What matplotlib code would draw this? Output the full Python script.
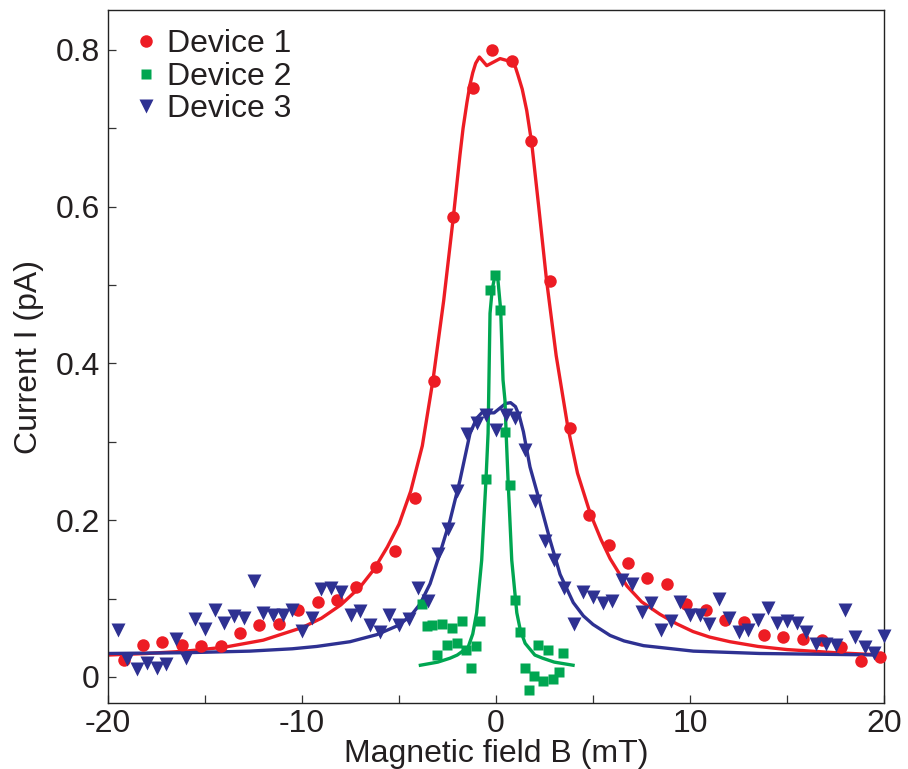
import matplotlib
matplotlib.use("Agg")
import matplotlib.pyplot as plt
from matplotlib.ticker import FixedLocator, MultipleLocator

plt.rcParams['font.family'] = ['Liberation Sans', 'DejaVu Sans']

# ---------------- data ----------------
dev1_x = [-19.2, -18.2, -17.2, -16.2, -15.2, -14.2, -13.2, -12.2, -11.2, -10.2,
          -9.2, -8.2, -7.2, -6.2, -5.2, -4.2, -3.2, -2.2, -1.2, -0.2,
          0.8, 1.8, 2.8, 3.8, 4.8, 5.8, 6.8, 7.8, 8.8, 9.8,
          10.8, 11.8, 12.8, 13.8, 14.8, 15.8, 16.8, 17.8, 18.8, 19.8]
dev1_y = [0.022, 0.041, 0.045, 0.041, 0.040, 0.040, 0.056, 0.066, 0.068, 0.085,
          0.096, 0.098, 0.115, 0.140, 0.161, 0.228, 0.378, 0.587, 0.751, 0.800,
          0.786, 0.684, 0.505, 0.318, 0.207, 0.168, 0.145, 0.126, 0.119, 0.093,
          0.085, 0.073, 0.070, 0.054, 0.051, 0.048, 0.047, 0.038, 0.020, 0.026]

dev2_x = [-3.83, -3.57, -3.31, -3.06, -2.80, -2.54, -2.28, -2.03, -1.77, -1.55,
          -1.30, -1.03, -0.82, -0.52, -0.31, -0.05, 0.21, 0.46, 0.72, 0.98,
          1.24, 1.50, 1.72, 1.96, 2.18, 2.44, 2.70, 2.95, 3.25, 3.47]
dev2_y = [0.093, 0.065, 0.066, 0.028, 0.068, 0.041, 0.063, 0.044, 0.071, 0.034,
          0.011, 0.039, 0.071, 0.253, 0.494, 0.513, 0.468, 0.312, 0.245, 0.098,
          0.058, 0.011, -0.016, 0.001, 0.041, -0.005, 0.034, -0.002, 0.006, 0.030]

dev3_x = [-19.5, -19.0, -18.5, -18.0, -17.5, -17.0, -16.5, -16.0, -15.5, -15.0,
          -14.5, -14.0, -13.5, -13.0, -12.5, -12.0, -11.5, -11.0, -10.5, -10.0,
          -9.5, -9.0, -8.5, -8.0, -7.5, -7.0, -6.5, -6.0, -5.5, -5.0,
          -4.5, -4.0, -3.5, -3.0, -2.5, -2.0, -1.5, -1.0, -0.5, 0.0,
          0.5, 1.0, 1.5, 2.0, 2.5, 3.0, 3.5, 4.0, 4.5, 5.0,
          5.5, 6.0, 6.5, 7.0, 7.5, 8.0, 8.5, 9.0, 9.5, 10.0,
          10.5, 11.0, 11.5, 12.0, 12.5, 13.0, 13.5, 14.0, 14.5, 15.0,
          15.5, 16.0, 16.5, 17.0, 17.5, 18.0, 18.5, 19.0, 19.5, 20.0]
dev3_y = [0.060, 0.023, 0.010, 0.018, 0.012, 0.017, 0.048, 0.024, 0.074, 0.061,
          0.085, 0.069, 0.078, 0.075, 0.123, 0.082, 0.079, 0.079, 0.086, 0.059,
          0.075, 0.112, 0.113, 0.108, 0.079, 0.084, 0.066, 0.058, 0.079, 0.066,
          0.074, 0.113, 0.097, 0.157, 0.189, 0.237, 0.310, 0.324, 0.334, 0.315,
          0.334, 0.330, 0.289, 0.225, 0.174, 0.149, 0.114, 0.067, 0.109, 0.102,
          0.094, 0.097, 0.124, 0.119, 0.083, 0.094, 0.060, 0.072, 0.096, 0.079,
          0.079, 0.068, 0.099, 0.075, 0.058, 0.060, 0.073, 0.088, 0.069, 0.071,
          0.069, 0.058, 0.042, 0.042, 0.041, 0.085, 0.051, 0.038, 0.031, 0.052]

# fitted curves
fit1_x = [-20.0, -18.0, -16.0, -14.0, -12.0, -11.0, -10.0, -9.0, -8.0, -7.0,
          -6.3, -5.6, -5.0, -4.4, -3.8, -3.25, -2.7, -2.2, -1.86, -1.7,
          -1.5, -1.35, -1.2, -1.05, -0.86, -0.48, 0.21, 0.5, 0.81, 1.0,
          1.13, 1.35, 1.58, 1.84, 2.2, 2.6, 3.1, 3.7, 4.2, 4.85,
          5.4, 5.88, 6.75, 7.5, 8.45, 9.3, 10.15, 11.0, 12.06, 13.5,
          15.0, 17.5, 20.0]
fit1_y = [0.028, 0.030, 0.033, 0.038, 0.047, 0.055, 0.063, 0.075, 0.092, 0.115,
          0.137, 0.166, 0.195, 0.237, 0.295, 0.379, 0.480, 0.587, 0.666, 0.700,
          0.733, 0.755, 0.771, 0.783, 0.791, 0.780, 0.789, 0.787, 0.785, 0.778,
          0.768, 0.750, 0.723, 0.681, 0.600, 0.507, 0.410, 0.319, 0.260, 0.209,
          0.176, 0.151, 0.116, 0.096, 0.080, 0.068, 0.058, 0.051, 0.045, 0.039,
          0.035, 0.031, 0.028]

fit2_x = [-3.9, -3.0, -2.37, -2.0, -1.44, -1.2, -1.0, -0.74, -0.52, -0.41,
          -0.31, -0.2, -0.05, 0.1, 0.24, 0.36, 0.46, 0.52, 0.62, 0.81,
          1.07, 1.25, 1.5, 2.0, 2.4, 3.0, 3.97]
fit2_y = [0.015, 0.019, 0.024, 0.028, 0.038, 0.055, 0.082, 0.149, 0.251, 0.311,
          0.464, 0.494, 0.513, 0.506, 0.468, 0.379, 0.353, 0.311, 0.251, 0.149,
          0.082, 0.060, 0.043, 0.028, 0.024, 0.019, 0.015]

fit3_x = [-20.0, -16.0, -12.7, -10.5, -9.24, -7.53, -6.15, -5.12, -4.43, -3.92,
          -3.4, -2.89, -2.37, -1.86, -1.34, -1.0, -0.7, -0.4, -0.1, 0.2,
          0.5, 0.75, 1.0, 1.2, 1.41, 1.75, 2.27, 2.78, 3.3, 3.98,
          4.5, 5.0, 5.88, 6.6, 7.6, 10.17, 13.6, 20.0]
fit3_y = [0.030, 0.031, 0.033, 0.036, 0.039, 0.045, 0.054, 0.065, 0.077, 0.093,
          0.119, 0.158, 0.200, 0.251, 0.311, 0.330, 0.338, 0.337, 0.337, 0.343,
          0.349, 0.350, 0.345, 0.333, 0.313, 0.268, 0.222, 0.175, 0.131, 0.095,
          0.078, 0.067, 0.053, 0.046, 0.040, 0.033, 0.030, 0.028]

labels = ["Device 1", "Device 2", "Device 3"]
xticks = [-20, -10, 0, 10, 20]
xticklabels = ["-20", "-10", "0", "10", "20"]
yticks = [0, 0.2, 0.4, 0.6, 0.8]
yticklabels = ["0", "0.2", "0.4", "0.6", "0.8"]

RED = "#ED1C24"
GREEN = "#00A651"
BLUE = "#2E3192"
TXT = "#231F20"

fig = plt.figure(figsize=(9.08, 7.69), dpi=100)
ax = fig.add_axes([0.119, 0.0858, 0.8546, 0.9012])

ax.plot(fit1_x, fit1_y, color=RED, lw=2.4, zorder=2, solid_joinstyle='round')
ax.plot(fit3_x, fit3_y, color=BLUE, lw=2.4, zorder=2.1, solid_joinstyle='round')
ax.plot(fit2_x, fit2_y, color=GREEN, lw=2.4, zorder=2.2, solid_joinstyle='round')

ax.plot(dev1_x, dev1_y, 'o', color=RED, ms=9, mec='none', label=labels[0], zorder=3, clip_on=False)
ax.plot(dev2_x, dev2_y, 's', color=GREEN, ms=7.5, mec='none', label=labels[1], zorder=3.1, clip_on=False)
ax.plot(dev3_x, dev3_y, 'v', color=BLUE, ms=9.5, mec='none', label=labels[2], zorder=3.2, clip_on=False)

ax.set_xlim(-20, 20)
ax.set_ylim(-0.0332, 0.851)

ax.xaxis.set_major_locator(FixedLocator(xticks))
ax.set_xticklabels(xticklabels)
ax.xaxis.set_minor_locator(MultipleLocator(5))
ax.yaxis.set_major_locator(FixedLocator(yticks))
ax.set_yticklabels(yticklabels)
ax.yaxis.set_minor_locator(MultipleLocator(0.1))

ax.tick_params(which='both', direction='in', length=6, width=0.9, color='#333333',
               top=False, right=False, labelsize=23)
ax.tick_params(axis='x', which='major', pad=4)
ax.tick_params(axis='y', which='major', pad=6)

for s in ax.spines.values():
    s.set_linewidth(1.0)
    s.set_color('#222222')

ax.set_xlabel("Magnetic field B (mT)", fontsize=23, labelpad=0, color=TXT)
ax.set_ylabel("Current I (pA)", fontsize=23, labelpad=8, color=TXT)
for t in ax.get_xticklabels() + ax.get_yticklabels():
    t.set_color(TXT)

leg = ax.legend(loc='upper left', bbox_to_anchor=(0.008, 1.0), frameon=False,
                fontsize=23, handlelength=0.8, handletextpad=0.25,
                labelspacing=0.08, borderaxespad=0.2, markerscale=1.0)
for t in leg.get_texts():
    t.set_color(TXT)

fig.savefig("out.png", dpi=100)
